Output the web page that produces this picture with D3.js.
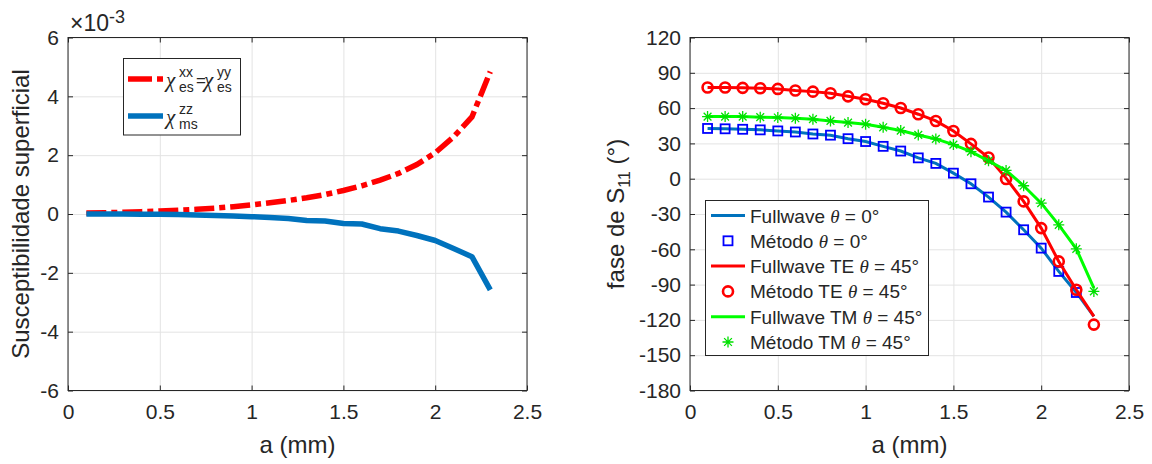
<!DOCTYPE html>
<html>
<head>
<meta charset="utf-8">
<script src="https://cdn.jsdelivr.net/npm/d3@7"></script>
<style>
  body { margin: 0; background: #fff; }
  svg text { font-family: "Liberation Sans", Arial, sans-serif; fill: #262626; }
  .sym { font-family: "Liberation Serif", "DejaVu Serif", serif; font-style: italic; }
</style>
</head>
<body>
<svg id="fig" width="1152" height="464"></svg>
<script>
// Sampled radius a (mm)
const aValues = [0.1, 0.2, 0.3, 0.4, 0.5, 0.6, 0.7, 0.8, 0.9, 1.0, 1.1, 1.2,
                 1.3, 1.4, 1.5, 1.6, 1.7, 1.8, 1.9, 2.0, 2.1, 2.2, 2.3];

// Surface susceptibilities (x 1e-3)
const chiEs = [0.03, 0.04, 0.06, 0.08, 0.10, 0.13, 0.16, 0.20, 0.25, 0.31, 0.38, 0.46,
               0.55, 0.66, 0.80, 0.96, 1.15, 1.38, 1.68, 2.08, 2.62, 3.30, 4.84];
const chiMs = [0.0, 0.0, 0.0, -0.005, -0.01, -0.02, -0.03, -0.05, -0.07, -0.09, -0.12, -0.15,
               -0.22, -0.24, -0.32, -0.34, -0.50, -0.58, -0.73, -0.90, -1.17, -1.45, -2.58];

// Phase of S11 (degrees)
const fullTheta0 = [42.7, 42.4, 42.0, 41.5, 40.6, 39.7, 38.0, 37.0, 34.0, 31.6, 27.5, 23.5,
                    17.7, 13.0, 4.7, -4.3, -15.6, -28.4, -43.4, -59.0, -78.8, -96.7, -117.0];
const methTheta0 = [42.7, 42.4, 42.0, 41.5, 40.6, 39.7, 38.0, 37.0, 34.0, 31.6, 27.5, 23.5,
                    17.7, 13.0, 4.7, -4.3, -15.6, -28.4, -43.4, -59.0, -78.8, -96.7];
const fullTE45 = [77.5, 77.5, 77.2, 76.9, 76.3, 74.9, 74.0, 72.6, 70.0, 67.5, 64.1, 60.1,
                  54.8, 49.1, 40.6, 29.6, 18.0, 0.5, -19.3, -42.0, -70.3, -94.4, -117.0];
const methTE45 = [77.5, 77.5, 77.2, 76.9, 76.3, 74.9, 74.0, 72.6, 70.0, 67.5, 64.1, 60.1,
                  54.8, 49.1, 40.6, 29.6, 18.0, -0.3, -19.3, -42.0, -70.3, -94.4, -124.0];
const fullTM45 = [52.8, 52.8, 52.8, 52.3, 52.0, 51.4, 50.6, 49.1, 47.7, 46.3, 43.7, 40.9,
                  37.2, 33.8, 29.0, 23.0, 15.2, 7.0, -6.0, -20.8, -39.2, -59.6, -93.0];
const methTM45 = [52.8, 52.8, 52.8, 52.3, 52.0, 51.4, 50.6, 49.1, 47.7, 46.3, 43.7, 40.9,
                  37.2, 33.8, 29.0, 23.0, 15.2, 7.0, -6.0, -20.8, -39.2, -59.6, -95.8];

// Tick values
const xTicks = [0, 0.5, 1, 1.5, 2, 2.5];
const yTicksChi = [-6, -4, -2, 0, 2, 4, 6];
const yTicksPhase = [120, 90, 60, 30, 0, -30, -60, -90, -120, -150, -180];

const AX = "#262626", GRID = "#e3e3e3";
const TICK_FONT = 21, LABEL_FONT = 24, LEGEND_FONT = 19;

const svg = d3.select("#fig");

function panel(x, y, yTicks) {
  const g = svg.append("g");
  const [x0, x1] = x.range();
  const [y0, y1] = y.range(); // y0 bottom, y1 top
  const w = x1 - x0, h = y0 - y1;
  // grid
  g.append("g").attr("transform", `translate(0,${y0})`)
    .call(d3.axisBottom(x).tickValues(xTicks).tickSize(-h).tickFormat(""))
    .call(s => { s.select(".domain").remove(); s.selectAll("line").attr("stroke", GRID); });
  g.append("g").attr("transform", `translate(${x0},0)`)
    .call(d3.axisLeft(y).tickValues(yTicks).tickSize(-w).tickFormat(""))
    .call(s => { s.select(".domain").remove(); s.selectAll("line").attr("stroke", GRID); });
  return g;
}

function frame(g, x, y, yTicks) {
  const [x0, x1] = x.range();
  const [y0, y1] = y.range();
  const T = 5;
  const style = s => {
    s.select(".domain").remove();
    s.selectAll("line").attr("stroke", AX);
    s.selectAll("text").attr("fill", AX).style("font-size", TICK_FONT + "px")
      .style("font-family", '"Liberation Sans", Arial, sans-serif');
  };
  g.append("g").attr("transform", `translate(0,${y0})`)
    .call(d3.axisBottom(x).tickValues(xTicks).tickSize(-T).tickPadding(14).tickFormat(d => String(d)))
    .call(style);
  g.append("g").attr("transform", `translate(0,${y1})`)
    .call(d3.axisTop(x).tickValues(xTicks).tickSize(-T).tickFormat(""))
    .call(style);
  g.append("g").attr("transform", `translate(${x0},0)`)
    .call(d3.axisLeft(y).tickValues(yTicks).tickSize(-T).tickPadding(9).tickFormat(d => String(d)))
    .call(style);
  g.append("g").attr("transform", `translate(${x1},0)`)
    .call(d3.axisRight(y).tickValues(yTicks).tickSize(-T).tickFormat(""))
    .call(style);
  g.append("rect").attr("x", x0).attr("y", y1).attr("width", x1 - x0).attr("height", y0 - y1)
    .attr("fill", "none").attr("stroke", AX).attr("stroke-width", 1);
}

// ---------- Left panel: susceptibilities ----------
const xL = d3.scaleLinear().domain([0, 2.5]).range([68, 527]);
const yL = d3.scaleLinear().domain([-6, 6]).range([390.5, 37.5]);
const gL = panel(xL, yL, yTicksChi);

const lineL = vals => d3.line().x((d, i) => xL(aValues[i])).y(d => yL(d))(vals);
gL.append("path").attr("d", lineL(chiEs)).attr("fill", "none")
  .attr("stroke", "#ff0000").attr("stroke-width", 5.5).attr("stroke-dasharray", "20,5,6,5");
gL.append("path").attr("d", lineL(chiMs)).attr("fill", "none")
  .attr("stroke", "#0072bd").attr("stroke-width", 5.5).attr("stroke-linejoin", "round");
frame(gL, xL, yL, yTicksChi);

// exponent marker
const expT = svg.append("text").attr("x", 70).attr("y", 31).style("font-size", "23px");
expT.append("tspan").text("×10");
expT.append("tspan").attr("dy", -8).style("font-size", "18px").text("-3");

// axis labels
svg.append("text").attr("x", 297.5).attr("y", 453).attr("text-anchor", "middle")
  .style("font-size", LABEL_FONT + "px").text("a (mm)");
svg.append("text").attr("transform", "translate(29,214) rotate(-90)").attr("text-anchor", "middle")
  .style("font-size", LABEL_FONT + "px").text("Susceptibilidade superficial");

// legend (left)
const legL = svg.append("g");
legL.append("rect").attr("x", 123.5).attr("y", 58.5).attr("width", 117).attr("height", 76.5)
  .attr("fill", "#fff").attr("stroke", AX).attr("stroke-width", 1);
legL.append("line").attr("x1", 128).attr("x2", 163).attr("y1", 79).attr("y2", 79)
  .attr("stroke", "#ff0000").attr("stroke-width", 5.5).attr("stroke-dasharray", "24,5,6,5");
legL.append("line").attr("x1", 128).attr("x2", 163).attr("y1", 116).attr("y2", 116)
  .attr("stroke", "#0072bd").attr("stroke-width", 5.5);

function chiSym(g, x, base, sup, sub) {
  g.append("text").attr("class", "sym").attr("x", x).attr("y", base)
    .style("font-size", "21px").text("χ");
  g.append("text").attr("x", x + 13).attr("y", base - 10).style("font-size", "14px").text(sup);
  g.append("text").attr("x", x + 13).attr("y", base + 5).style("font-size", "14px").text(sub);
}
chiSym(legL, 166, 87, "xx", "es");
legL.append("text").attr("x", 196).attr("y", 86).style("font-size", "17px").text("=");
chiSym(legL, 204, 87, "yy", "es");
chiSym(legL, 166, 124, "zz", "ms");

// ---------- Right panel: phase of S11 ----------
const xR = d3.scaleLinear().domain([0, 2.5]).range([690, 1129]);
const yR = d3.scaleLinear().domain([-180, 120]).range([390.5, 37.5]);
const gR = panel(xR, yR, yTicksPhase);
const lineR = vals => d3.line().x((d, i) => xR(aValues[i])).y(d => yR(d))(vals);

function squareMarks(g, vals) {
  g.append("g").selectAll("rect").data(vals).join("rect")
    .attr("x", (d, i) => xR(aValues[i]) - 4.5).attr("y", d => yR(d) - 4.5)
    .attr("width", 9).attr("height", 9).attr("fill", "none")
    .attr("stroke", "#0000ff").attr("stroke-width", 1.8);
}
function circleMarks(g, vals) {
  g.append("g").selectAll("circle").data(vals).join("circle")
    .attr("cx", (d, i) => xR(aValues[i])).attr("cy", d => yR(d)).attr("r", 5)
    .attr("fill", "none").attr("stroke", "#ff0000").attr("stroke-width", 2.6);
}
const starPath = (cx, cy, r) => {
  const k = r * Math.SQRT1_2;
  return `M${cx - r},${cy}H${cx + r}M${cx},${cy - r}V${cy + r}` +
         `M${cx - k},${cy - k}L${cx + k},${cy + k}M${cx - k},${cy + k}L${cx + k},${cy - k}`;
};
function starMarks(g, vals) {
  g.append("g").selectAll("path").data(vals).join("path")
    .attr("d", (d, i) => starPath(xR(aValues[i]), yR(d), 5.5))
    .attr("stroke", "#00e000").attr("stroke-width", 1.3).attr("fill", "none");
}

gR.append("path").attr("d", lineR(fullTheta0)).attr("fill", "none")
  .attr("stroke", "#0072bd").attr("stroke-width", 3);
squareMarks(gR, methTheta0);
gR.append("path").attr("d", lineR(fullTE45)).attr("fill", "none")
  .attr("stroke", "#ff0000").attr("stroke-width", 3);
circleMarks(gR, methTE45);
gR.append("path").attr("d", lineR(fullTM45)).attr("fill", "none")
  .attr("stroke", "#00ff00").attr("stroke-width", 3);
starMarks(gR, methTM45);
frame(gR, xR, yR, yTicksPhase);

svg.append("text").attr("x", 909.5).attr("y", 453).attr("text-anchor", "middle")
  .style("font-size", LABEL_FONT + "px").text("a (mm)");
const yl = svg.append("text").attr("transform", "translate(624,214) rotate(-90)")
  .attr("text-anchor", "middle").style("font-size", LABEL_FONT + "px");
yl.append("tspan").text("fase de S");
yl.append("tspan").attr("dy", 6).style("font-size", "16px").text("11");
yl.append("tspan").attr("dy", -6).text(" (°)");

// legend (right)
const legendItems = [
  { label: "Fullwave", ang: "0°", kind: "line", color: "#0072bd" },
  { label: "Método", ang: "0°", kind: "square" },
  { label: "Fullwave TE", ang: "45°", kind: "line", color: "#ff0000" },
  { label: "Método TE", ang: "45°", kind: "circle" },
  { label: "Fullwave TM", ang: "45°", kind: "line", color: "#00ff00" },
  { label: "Método TM", ang: "45°", kind: "star" }
];
const legR = svg.append("g");
legR.append("rect").attr("x", 705.5).attr("y", 200.5).attr("width", 223).attr("height", 155)
  .attr("fill", "#fff").attr("stroke", AX).attr("stroke-width", 1);
legendItems.forEach((it, i) => {
  const cy = 215.5 + i * 25.3;
  if (it.kind === "line") {
    legR.append("line").attr("x1", 711).attr("x2", 745).attr("y1", cy).attr("y2", cy)
      .attr("stroke", it.color).attr("stroke-width", 3);
  } else if (it.kind === "square") {
    legR.append("rect").attr("x", 728 - 4.5).attr("y", cy - 4.5).attr("width", 9).attr("height", 9)
      .attr("fill", "none").attr("stroke", "#0000ff").attr("stroke-width", 1.8);
  } else if (it.kind === "circle") {
    legR.append("circle").attr("cx", 728).attr("cy", cy).attr("r", 5)
      .attr("fill", "none").attr("stroke", "#ff0000").attr("stroke-width", 2.6);
  } else {
    legR.append("path").attr("d", starPath(728, cy, 5.5))
      .attr("stroke", "#00e000").attr("stroke-width", 1.3);
  }
  const t = legR.append("text").attr("x", 750).attr("y", cy + 7).style("font-size", LEGEND_FONT + "px");
  t.append("tspan").text(it.label + " ");
  t.append("tspan").attr("class", "sym").text("θ");
  t.append("tspan").text(" = " + it.ang);
});
</script>
</body>
</html>
